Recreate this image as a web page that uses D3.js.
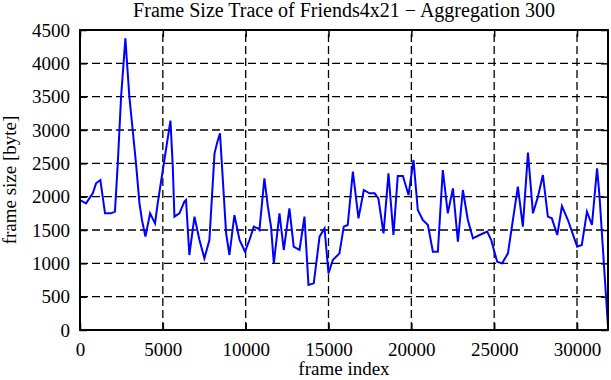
<!DOCTYPE html>
<html>
<head>
<meta charset="utf-8">
<script src="https://cdn.jsdelivr.net/npm/d3@7"></script>
<style>
    body { margin: 0; background: #fff; }
    svg { display: block; font-family: "Liberation Serif", "DejaVu Serif", serif; }
</style>
</head>
<body>
<div id="chart"></div>
<script>
// frame index of each aggregated sample
var frames = [0, 360, 770, 970, 1230, 1510, 1870, 2110, 2280, 2480,
    2740, 2840, 2980, 3180, 3380, 3590, 3740, 3950, 4230, 4530,
    4690, 5000, 5460, 5600, 5700, 6000, 6300, 6400, 6600, 6910,
    7210, 7510, 7810, 8120, 8270, 8450, 8610, 8820, 9020, 9320,
    9630, 9960, 10230, 10490, 10730, 10830, 11130, 11340, 11530, 11700,
    12040, 12300, 12640, 12900, 13250, 13550, 13790, 14110, 14460, 14760,
    15000, 15260, 15660, 15920, 16160, 16470, 16810, 17130, 17470, 17780,
    18010, 18320, 18620, 18920, 19180, 19490, 19830, 20130, 20390, 20690,
    21000, 21300, 21600, 21900, 22200, 22510, 22810, 23110, 23410, 23720,
    24120, 24580, 24820, 25180, 25480, 25830, 26430, 26730, 27040, 27340,
    27640, 27940, 28240, 28480, 28810, 29090, 29450, 30010, 30290, 30600,
    30900, 31210, 31360, 31620, 31870];

// frame size in byte
var sizes = [1950, 1900, 2050, 2200, 2250, 1750, 1750, 1775, 2500, 3500,
    4375, 4000, 3500, 3000, 2500, 1900, 1650, 1400, 1750, 1600,
    1900, 2400, 3140, 2450, 1700, 1750, 1925, 1950, 1125, 1700,
    1350, 1075, 1350, 2650, 2800, 2950, 2300, 1450, 1125, 1725,
    1350, 1175, 1350, 1550, 1525, 1500, 2275, 1850, 1550, 1000,
    1750, 1200, 1825, 1250, 1200, 1700, 675, 700, 1400, 1525,
    850, 1050, 1150, 1550, 1575, 2375, 1675, 2100, 2050, 2050,
    1975, 1450, 2350, 1425, 2310, 2310, 2025, 2550, 1800, 1650,
    1575, 1175, 1175, 2400, 1750, 2125, 1325, 2100, 1650, 1375,
    1425, 1475, 1350, 1025, 1000, 1150, 2150, 1550, 2660, 1750,
    2000, 2325, 1700, 1675, 1425, 1860, 1650, 1250, 1275, 1775,
    1575, 2425, 2000, 1000, 50];

var xTicks = [0, 5000, 10000, 15000, 20000, 25000, 30000];
var yTicks = [0, 500, 1000, 1500, 2000, 2500, 3000, 3500, 4000, 4500];

var titleText = "Frame Size Trace of Friends4x21 \u2212 Aggregation 300";
var xLabel = "frame index";
var yLabel = "frame size [byte]";

var width = 611, height = 380;
var margin = {top: 30, right: 3, bottom: 50, left: 80};
var tickLen = 7;

var svg = d3.select('#chart')
            .append('svg')
            .attr('width', width)
            .attr('height', height);

var xScale = d3.scaleLinear()
                .domain([0, d3.max(frames)])
                .range([margin.left, width - margin.right]);
var yScale = d3.scaleLinear()
                .domain([0, 4500])
                .range([height - margin.bottom, margin.top]);

var x0 = margin.left, x1 = width - margin.right;
var y0 = height - margin.bottom, y1 = margin.top;
var fmt = d3.format('d');

// dashed grid
svg.append('g')
    .selectAll('line')
    .data(xTicks.filter(d => d > 0))
    .join('line')
    .attr('x1', d => xScale(d)).attr('x2', d => xScale(d))
    .attr('y1', y0).attr('y2', y1)
    .attr('stroke', '#000')
    .attr('stroke-width', 1.3)
    .attr('stroke-dasharray', '8,4');

svg.append('g')
    .selectAll('line')
    .data(yTicks.filter(d => d > 0 && d < 4500))
    .join('line')
    .attr('x1', x0).attr('x2', x1)
    .attr('y1', d => yScale(d)).attr('y2', d => yScale(d))
    .attr('stroke', '#000')
    .attr('stroke-width', 1.3)
    .attr('stroke-dasharray', '8,4');

// axes with inward ticks on all four sides
var xAxis = svg.append('g')
    .attr('transform', `translate(0, ${y0})`)
    .call(d3.axisBottom(xScale).tickValues(xTicks).tickFormat(fmt)
        .tickSizeInner(-tickLen).tickSizeOuter(0).tickPadding(13));
var xTop = svg.append('g')
    .attr('transform', `translate(0, ${y1})`)
    .call(d3.axisTop(xScale).tickValues(xTicks).tickSizeInner(-tickLen).tickSizeOuter(0).tickFormat(''));
var yAxis = svg.append('g')
    .attr('transform', `translate(${x0}, 0)`)
    .call(d3.axisLeft(yScale).tickValues(yTicks).tickFormat(fmt)
        .tickSizeInner(-tickLen).tickSizeOuter(0).tickPadding(10));
var yRight = svg.append('g')
    .attr('transform', `translate(${x1}, 0)`)
    .call(d3.axisRight(yScale).tickValues(yTicks).tickSizeInner(-tickLen).tickSizeOuter(0).tickFormat(''));

[xAxis, xTop, yAxis, yRight].forEach(function(g) {
    g.select('.domain').remove();
    g.selectAll('.tick line').attr('stroke', '#000').attr('stroke-width', 1.5);
    g.selectAll('text')
        .attr('fill', '#000')
        .style('font-family', '"Liberation Serif", serif')
        .style('font-size', '19px');
});

// trace
var line = d3.line()
            .x((d, i) => xScale(frames[i]))
            .y(d => yScale(d));

svg.append('path')
    .datum(sizes)
    .attr('fill', 'none')
    .attr('stroke', '#0000ff')
    .attr('stroke-width', 2)
    .attr('d', line);

// frame box
svg.append('rect')
    .attr('x', x0).attr('y', y1)
    .attr('width', x1 - x0).attr('height', y0 - y1)
    .attr('fill', 'none')
    .attr('stroke', '#000')
    .attr('stroke-width', 2);

svg.append('text')
    .attr('x', (x0 + x1) / 2)
    .attr('y', 17)
    .attr('text-anchor', 'middle')
    .style('font-size', '20px')
    .text(titleText);

svg.append('text')
    .attr('x', (x0 + x1) / 2)
    .attr('y', 375)
    .attr('text-anchor', 'middle')
    .style('font-size', '19px')
    .text(xLabel);

svg.append('text')
    .attr('transform', `translate(16, ${(y0 + y1) / 2}) rotate(-90)`)
    .attr('text-anchor', 'middle')
    .style('font-size', '19px')
    .text(yLabel);
</script>
</body>
</html>
